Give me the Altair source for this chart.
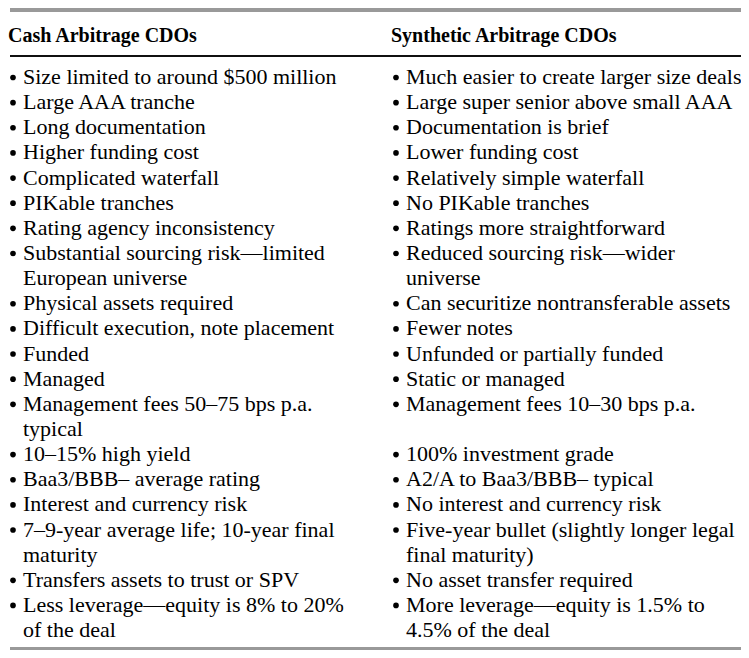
import altair as alt
import pandas as pd

left_header = "Cash Arbitrage CDOs"
right_header = "Synthetic Arbitrage CDOs"

left_items = [
    ["Size limited to around $500 million"],
    ["Large AAA tranche"],
    ["Long documentation"],
    ["Higher funding cost"],
    ["Complicated waterfall"],
    ["PIKable tranches"],
    ["Rating agency inconsistency"],
    ["Substantial sourcing risk—limited", "European universe"],
    ["Physical assets required"],
    ["Difficult execution, note placement"],
    ["Funded"],
    ["Managed"],
    ["Management fees 50–75 bps p.a.", "typical"],
    ["10–15% high yield"],
    ["Baa3/BBB– average rating"],
    ["Interest and currency risk"],
    ["7–9-year average life; 10-year final", "maturity"],
    ["Transfers assets to trust or SPV"],
    ["Less leverage—equity is 8% to 20%", "of the deal"],
]

right_items = [
    ["Much easier to create larger size deals"],
    ["Large super senior above small AAA"],
    ["Documentation is brief"],
    ["Lower funding cost"],
    ["Relatively simple waterfall"],
    ["No PIKable tranches"],
    ["Ratings more straightforward"],
    ["Reduced sourcing risk—wider", "universe"],
    ["Can securitize nontransferable assets"],
    ["Fewer notes"],
    ["Unfunded or partially funded"],
    ["Static or managed"],
    ["Management fees 10–30 bps p.a."],
    ["100% investment grade"],
    ["A2/A to Baa3/BBB– typical"],
    ["No interest and currency risk"],
    ["Five-year bullet (slightly longer legal", "final maturity)"],
    ["No asset transfer required"],
    ["More leverage—equity is 1.5% to", "4.5% of the deal"],
]

# ---- layout (pixels inside the plot area) ----
W, H = 733, 642
COL_X = {"left": 0, "right": 383}
BULLET_DX = 3
TEXT_DX = 13
HEADER_DX = -2
LINE0 = 75.0      # baseline of first body line
STEP = 25.14      # line spacing
HEADER_BASE = 33.0

rows = []
line = 0
for li, ri in zip(left_items, right_items):
    for col, item in (("left", li), ("right", ri)):
        for k, t in enumerate(item):
            rows.append({"col": col, "line": line + k, "text": t, "first": k == 0})
    line += max(len(li), len(ri))

df = pd.DataFrame(rows)
df["ty"] = LINE0 + df["line"] * STEP
df["tx"] = df["col"].map(COL_X) + TEXT_DX
df["bx"] = df["col"].map(COL_X) + BULLET_DX
df["by"] = df["ty"] - 6.5

hdr = pd.DataFrame({
    "text": [left_header, right_header],
    "tx": [COL_X["left"] + HEADER_DX, COL_X["right"] + HEADER_DX],
    "ty": [HEADER_BASE, HEADER_BASE],
})

xs = alt.Scale(domain=[0, W], range=[0, W])
ys = alt.Scale(domain=[0, H], range=[0, H])
FONT = "Liberation Serif"

body = alt.Chart(df).mark_text(
    align="left", baseline="alphabetic", font=FONT, fontSize=22, color="#000000"
).encode(
    x=alt.X("tx:Q", scale=xs, axis=None),
    y=alt.Y("ty:Q", scale=ys, axis=None),
    text="text:N",
)

bullets = alt.Chart(df[df["first"]]).mark_circle(
    size=32, color="#000000", opacity=1
).encode(
    x=alt.X("bx:Q", scale=xs, axis=None),
    y=alt.Y("by:Q", scale=ys, axis=None),
)

headers = alt.Chart(hdr).mark_text(
    align="left", baseline="alphabetic", font=FONT, fontSize=20,
    fontWeight="bold", color="#000000"
).encode(
    x=alt.X("tx:Q", scale=xs, axis=None),
    y=alt.Y("ty:Q", scale=ys, axis=None),
    text="text:N",
)

top_rule = alt.Chart(hdr).mark_rule(color="#999999", strokeWidth=4).encode(
    x=alt.value(0), x2=alt.value(W), y=alt.value(1)
)
head_rule = alt.Chart(hdr).mark_rule(color="#000000", strokeWidth=1.5).encode(
    x=alt.value(0), x2=alt.value(W), y=alt.value(47)
)
bottom_rule = alt.Chart(hdr).mark_rule(color="#999999", strokeWidth=4).encode(
    x=alt.value(0), x2=alt.value(W), y=alt.value(H - 2)
)

chart = alt.layer(top_rule, head_rule, bottom_rule, headers, body, bullets).properties(
    width=W, height=H, padding=0,
    autosize=alt.AutoSizeParams(type="fit", contains="padding"),
    background="white",
).configure_view(stroke=None)

chart.save("out.html", embed_options={"renderer": "svg", "actions": False})
